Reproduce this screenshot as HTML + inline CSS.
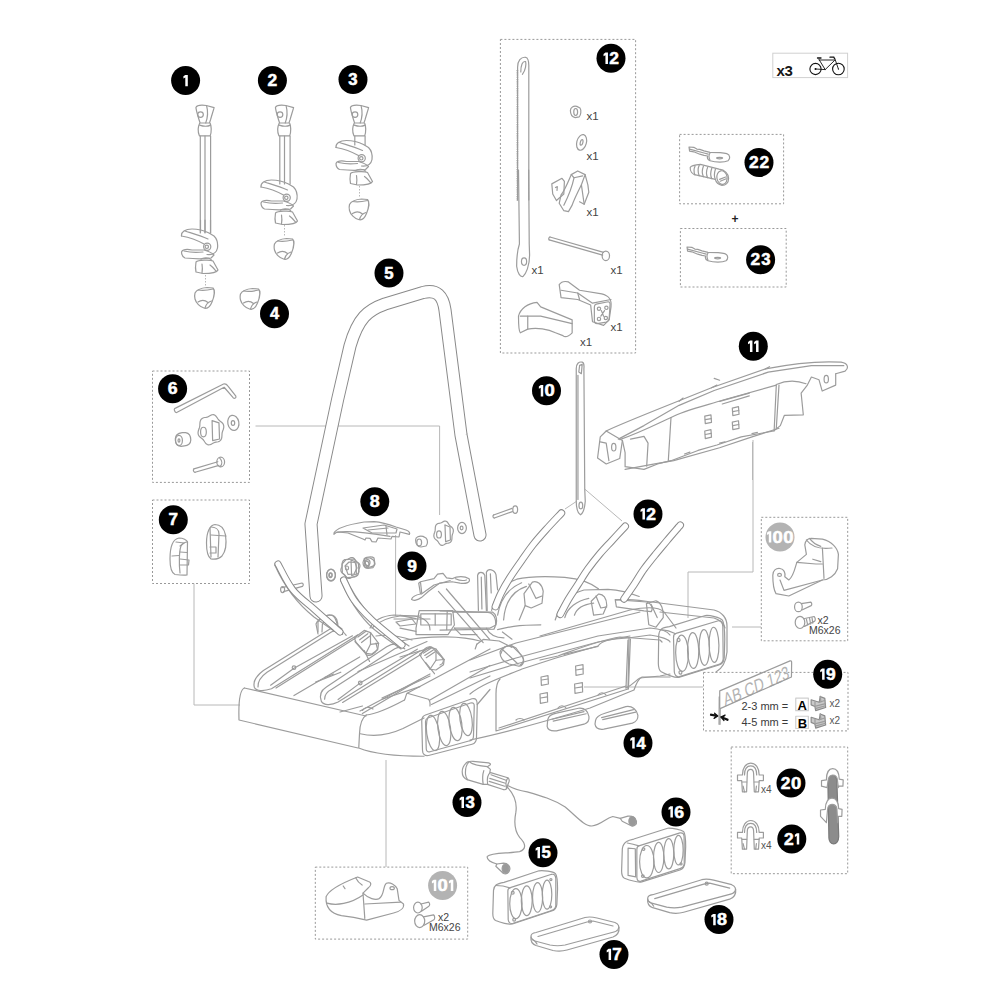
<!DOCTYPE html>
<html><head><meta charset="utf-8"><style>
html,body{margin:0;padding:0;background:#fff;width:1000px;height:1000px;overflow:hidden}
svg{display:block}
.n{font-family:"Liberation Sans",sans-serif;font-weight:bold;fill:#fff;text-anchor:middle}
.t{font-family:"Liberation Sans",sans-serif;fill:#333}
.pt path,.pt ellipse,.pt circle,.pt rect,.pt polyline,.pt line{fill:none;stroke:#9c9c9c;stroke-width:1.2;stroke-linejoin:round;stroke-linecap:round;vector-effect:non-scaling-stroke}
.pt .w{fill:#fff}
.l{fill:none;stroke:#b8b8b8;stroke-width:1}
.d{fill:none;stroke:#999;stroke-width:1;stroke-dasharray:2 2}
</style></head><body>
<svg width="1000" height="1000" viewBox="0 0 1000 1000">

<rect class="d" x="152.5" y="371" width="97.0" height="111.4"/>
<rect class="d" x="152.5" y="500" width="97.0" height="83.5"/>
<rect class="d" x="500.4" y="39.4" width="135.2" height="313.6"/>
<rect class="d" x="679.6" y="134.4" width="104.0" height="69.4"/>
<rect class="d" x="680.4" y="228.5" width="105.8" height="58.5"/>
<rect class="d" x="761.3" y="517.3" width="86.4" height="123.5"/>
<rect class="d" x="703.5" y="672.4" width="144.5" height="58.5"/>
<rect class="d" x="731.2" y="747" width="116.5" height="126.7"/>
<rect class="d" x="315.3" y="867.1" width="152.4" height="72.0"/>
<g class="l">
<path d="M 688,572 L 688,618"/><path d="M 688,572 L 753,572 L 753,440"/>
<path d="M 732,627 L 761,627"/>
<path d="M 584,687 L 703,687"/>
</g>
<g class="l">
<path d="M 752.5,442 L 752.5,480"/>
<path d="M 255.5,426 L 439.6,426 L 439.6,515"/>
<path d="M 395.6,535 L 395.6,616"/>
<path d="M 194,583.5 L 194,705 L 240,705"/>
<path d="M 386,760 L 386,867"/>
<path d="M 577,501 L 565,509 M 584.7,489 L 622,521"/>
</g>
<g font-family="Liberation Sans, sans-serif" font-size="11.5" fill="#444">
<text x="586.5" y="119.5">x1</text><text x="586.5" y="159.5">x1</text><text x="586.5" y="215.5">x1</text>
<text x="531.5" y="273.8">x1</text><text x="610.5" y="273.8">x1</text><text x="610.5" y="330.5">x1</text><text x="580" y="346">x1</text>
</g>
<rect x="772.8" y="53.2" width="74.8" height="24.4" fill="none" stroke="#d0d0d0" stroke-width="1"/>
<text x="776.5" y="75.5" font-family="Liberation Sans, sans-serif" font-size="15" font-weight="bold" fill="#151515" letter-spacing="-0.3">x3</text>
<g fill="none" stroke="#111" stroke-width="1.1" stroke-linecap="round">
<circle cx="815.5" cy="69" r="5.6"/><circle cx="838.4" cy="69" r="5.8"/>
<path d="M 819.2,60 L 834.8,60 M 834.8,58.5 L 838.4,69 M 834.5,60.5 L 825.2,69.6 L 819,59.5 M 815.5,69 L 825.2,69.6" stroke-width="0.9"/>
<path d="M 817.5,58 L 821,58 M 830,57.2 L 833.8,57.2 L 834.5,58.5" stroke-width="1.3"/>
</g>
<circle cx="815.5" cy="69" r="1" fill="#111"/><circle cx="838.4" cy="69" r="0.6" fill="#111"/>
<text x="735" y="223" font-family="Liberation Sans, sans-serif" font-size="12" font-weight="bold" fill="#222" text-anchor="middle">+</text>
<text transform="translate(725,706.5) rotate(-23.5) skewX(-12)" font-family="Liberation Sans, sans-serif" font-size="18" fill="#b3b3b3" textLength="71" lengthAdjust="spacingAndGlyphs">AB CD  123</text>
<g font-family="Liberation Sans, sans-serif" fill="#3a3a3a" font-size="11">
<text x="741.5" y="709.6">2-3 mm =</text><text x="741.5" y="726.3">4-5 mm =</text>
</g>
<g font-family="Liberation Sans, sans-serif" fill="#000" font-size="13" font-weight="bold">
<text x="797.6" y="710">A</text><text x="797.8" y="727.8">B</text>
</g>
<g font-family="Liberation Sans, sans-serif" fill="#555" font-size="10">
<text x="829.5" y="707.2">x2</text><text x="829.5" y="723.6">x2</text>
</g>
<g font-family="Liberation Sans, sans-serif" fill="#555" font-size="10">
<text x="761" y="793.2">x4</text><text x="761" y="848.5">x4</text>
</g>
<g font-family="Liberation Sans, sans-serif" fill="#444" font-size="10.5">
<text x="817.5" y="624">x2</text><text x="809" y="633.8">M6x26</text>
<text x="438" y="920.6">x2</text><text x="429" y="930.6">M6x26</text>
</g>
<path d="M 517.4,70 L 517.4,201" stroke="#888" stroke-width="1.6" stroke-dasharray="0.9 0.9" fill="none"/>
<g class="l" stroke-dasharray="1.5 1.5">
<path d="M 205.5,275 L 205.5,287"/><path d="M 284.5,225 L 284.5,237"/><path d="M 359.5,186 L 359.5,198"/>
</g>

<g class="pt">
<g transform="translate(230,600) scale(0.20000)">
<path d="M 72,440 C 52,448 42,510 45,600 L 640,740"/>
<path d="M 72,440 L 680,580"/>
<path d="M 650,555 L 1000,370"/>
<path d="M 760,490 L 1000,380"/>
<path d="M 440,170 L 430,120 C 440,95 470,80 490,75 C 520,70 530,90 540,140"/>
<path d="M 700,140 C 720,100 760,80 820,75 L 920,80 C 980,90 1000,120 1000,150"/>
<path d="M 820,95 L 1000,95"/>
</g>
<g transform="translate(340,640) scale(0.14999)">
<path d="M 175,500 C 145,520 132,560 130,625 L 125,720 C 200,750 350,775 560,775"/>
<path d="M 175,500 C 220,495 300,470 430,400"/>
<path d="M 430,400 C 440,380 440,360 448,355 L 590,395 C 600,405 602,420 600,440"/>
<path d="M 448,355 L 1000,60"/>
<path d="M 600,400 L 1000,170"/>
<path d="M 610,430 L 1000,240"/>
<path d="M 135,625 C 200,640 300,645 420,590 L 560,520"/>
<path d="M 915,430 L 1000,330"/>
<path d="M 570,500 L 880,392 C 905,385 915,400 915,430 L 910,650 C 910,675 900,690 880,695 L 590,770 C 565,775 550,760 550,735 L 545,540 C 545,515 555,505 570,500 Z"/>
<path d="M 585,520 L 870,420 C 890,415 895,425 895,440 L 890,640 C 890,660 880,670 865,672 L 600,745 C 585,750 575,740 575,725 L 570,545 C 570,530 575,525 585,520 Z"/>
<ellipse cx="620" cy="620" rx="42" ry="118" transform="rotate(-8 620 620)"/>
<ellipse cx="695" cy="590" rx="42" ry="115" transform="rotate(-8 695 590)"/>
<ellipse cx="770" cy="560" rx="42" ry="112" transform="rotate(-8 770 560)"/>
<ellipse cx="840" cy="530" rx="40" ry="108" transform="rotate(-8 840 530)"/>
<path d="M 100,10 L 180,100 C 200,110 230,95 250,60 L 240,20"/>
<path d="M 530,95 L 600,45 L 640,60 L 695,130 L 690,165 L 640,200 L 600,195 L 545,120 Z"/>
<path d="M 555,88 L 612,52"/>
<path d="M 565,103 L 622,66"/>
<path d="M 575,118 L 632,80"/>
<path d="M 600,195 L 640,135 L 695,130"/>
<path d="M 640,60 L 640,135"/>
<path d="M 570,150 L 630,225"/>
<path d="M 150,470 C 160,450 190,440 220,460"/>
<path d="M 120,210 L 580,10"/>
<path d="M 0,480 L 150,440"/>
</g>
<g transform="translate(240,620) scale(0.17999)">
<path d="M 590,85 C 560,45 520,40 500,50 L 130,280 C 90,310 70,340 80,375 C 90,395 130,397 175,382 L 655,82"/>
<path d="M 100,372 C 98,345 115,315 150,290 L 510,65 C 530,58 555,62 570,80"/>
<path d="M 170,362 L 300,268 L 625,88"/>
<path d="M 200,378 L 645,98"/>
<circle cx="300" cy="265" r="10"/>
<path d="M 300,420 L 665,205"/>
<path d="M 420,345 L 560,290"/>
<path d="M 470,320 L 520,300"/>
<path d="M 900,140 C 870,128 840,132 815,148 L 480,372 C 448,392 440,420 452,452 C 465,474 505,476 545,456 L 1000,172"/>
<path d="M 470,440 C 470,420 480,400 510,385 L 860,160 C 880,150 900,150 915,160"/>
<path d="M 545,442 L 665,352 L 985,162"/>
<path d="M 570,458 L 1000,195"/>
<circle cx="668" cy="350" r="10"/>
<path d="M 680,520 L 1000,330"/>
<path d="M 790,440 L 1000,370"/>
<path d="M 635,100 L 690,58 L 725,70 L 770,130 L 765,165 L 730,190 L 700,185 L 645,125 Z"/>
<path d="M 655,95 L 700,62"/>
<path d="M 665,110 L 710,76"/>
<path d="M 675,125 L 720,90"/>
<path d="M 700,185 L 725,135 L 770,130"/>
<path d="M 725,70 L 725,135"/>
<path d="M 690,170 L 720,230"/>
</g>
<g transform="translate(470,600) scale(0.20000)">
<path d="M 0,300 L 230,215 L 650,110 L 850,60"/>
<path d="M 0,360 L 230,290 L 640,180 L 900,140 C 960,145 990,160 1000,175"/>
<path d="M 0,390 L 230,320 L 640,210 L 800,180"/>
<path d="M 0,470 C 60,420 150,390 260,345 L 430,290 L 640,230 C 660,205 690,195 790,190 L 900,175 C 950,180 1000,200 1000,210"/>
<path d="M 150,395 C 135,410 130,440 130,470 L 130,655 L 790,445 L 795,190"/>
<path d="M 145,640 L 780,430"/>
<path d="M 0,700 C 200,660 400,600 600,540 L 820,450 C 830,420 840,395 860,385 L 1000,385"/>
<path d="M 355,385 L 390,378 L 392,420 L 357,427 Z"/>
<path d="M 358,400 L 390,395"/>
<path d="M 350,470 L 387,463 L 388,510 L 352,517 Z"/>
<path d="M 352,490 L 387,484"/>
<path d="M 528,330 L 565,323 L 566,370 L 530,377 Z"/>
<path d="M 530,350 L 565,344"/>
<path d="M 523,420 L 562,413 L 563,460 L 525,467 Z"/>
<path d="M 525,440 L 562,434"/>
<path d="M 470,272 L 640,232"/>
<path d="M 150,260 C 160,230 200,220 230,240 L 265,290 C 275,310 260,335 240,330 L 195,320 C 170,310 150,290 150,260 Z"/>
<path d="M 165,250 L 240,320"/>
<path d="M 230,600 C 240,590 260,590 270,600"/>
<path d="M 440,540 C 450,525 470,525 480,540"/>
<path d="M 640,475 C 650,460 670,460 680,475"/>
</g>
<g transform="translate(540,560) scale(0.20000)">
<path d="M 380,200 C 420,190 480,200 560,210 L 870,250 C 910,260 935,290 935,330 L 935,460 C 930,510 915,540 880,560"/>
<path d="M 0,380 L 450,250 C 550,230 600,240 620,260 L 680,340"/>
<path d="M 0,500 L 90,480 C 200,440 300,400 400,385 L 600,400 L 610,410"/>
<path d="M 440,400 L 430,640"/>
<path d="M 452,395 L 442,645"/>
<path d="M 430,640 C 470,620 480,600 500,590 L 600,580 L 650,570"/>
<path d="M 600,260 L 870,290 C 900,300 920,320 925,340"/>
</g>
<g transform="matrix(0.0722,0.00568,0.001013,0.08429,654.78,608.15)">
<path d="M 90,240 C 110,225 150,215 200,205 L 700,40 C 760,30 900,50 935,80 C 960,110 965,200 965,300 L 955,520 C 950,570 930,600 880,615 L 320,800 C 270,810 150,780 80,750 C 50,735 40,700 40,650 L 50,320 C 55,280 70,255 90,240 Z"/>
<path d="M 290,280 L 880,90 C 920,85 935,100 940,150 L 940,540 C 935,580 910,600 870,610 L 330,790 C 290,800 265,780 260,740 L 255,330 C 255,300 270,285 290,280 Z"/>
<path d="M 80,250 C 150,250 230,265 285,285"/>
<ellipse cx="370" cy="510" rx="88" ry="215"/>
<ellipse cx="525" cy="468" rx="78" ry="212"/>
<ellipse cx="680" cy="420" rx="72" ry="212"/>
<ellipse cx="815" cy="380" rx="68" ry="208"/>
<circle cx="325" cy="355" r="20"/>
<circle cx="345" cy="740" r="20"/>
</g>
<g transform="translate(540,700) scale(0.11001)">
<path d="M 70,180 C 75,150 100,130 150,120 L 350,75 C 400,70 435,100 445,150 C 450,190 430,210 400,220 L 150,280 C 100,285 70,270 65,240 Z"/>
<path d="M 110,175 L 400,105"/>
<path d="M 120,192 L 420,125"/>
<path d="M 505,185 C 510,150 540,135 590,120 L 780,60 C 840,50 880,90 890,140 C 892,180 870,200 840,210 L 580,265 C 530,272 505,250 500,220 Z"/>
<path d="M 560,160 L 850,88"/>
<path d="M 570,178 L 870,110"/>
</g>
<g transform="translate(260,540) scale(0.20000)">
<path d="M 75,128 C 70,115 85,108 100,112 C 140,200 200,300 300,360 L 410,445"/>
<path d="M 75,128 C 130,250 200,330 270,385 L 370,455"/>
<path d="M 110,238 L 210,215 C 218,218 218,228 212,232 L 118,258"/>
<ellipse cx="113" cy="248" rx="10" ry="15"/>
<ellipse cx="355" cy="176" rx="22" ry="30"/>
<ellipse cx="352" cy="176" rx="8" ry="12"/>
<path d="M 410,120 L 430,98 L 470,95 L 492,118 L 495,160 L 475,185 L 435,188 L 412,165 Z"/>
<path d="M 425,130 L 445,110 L 475,112 L 485,140 L 470,170 L 440,172 Z"/>
<path d="M 520,95 C 525,85 560,80 570,90 L 575,120 C 570,135 540,140 530,130 Z"/>
<ellipse cx="538" cy="113" rx="12" ry="15"/>
<path d="M 405,205 C 400,190 415,185 430,192 C 480,300 560,400 640,460 L 745,530"/>
<path d="M 405,205 C 460,330 530,420 600,470 L 705,545"/>
<path d="M 290,460 L 290,410 C 300,390 330,375 360,375 C 380,380 390,400 390,440"/>
<path d="M 310,460 L 312,420 C 320,405 335,400 350,400"/>
<path d="M 560,440 C 600,400 650,385 700,380 L 800,380"/>
<path d="M 680,410 L 760,395 L 780,420 L 700,430 Z"/>
<path d="M 580,480 C 640,470 700,480 760,500"/>
</g>
<g transform="translate(400,545) scale(0.16000)">
<path d="M 240,290 L 520,610"/>
<path d="M 290,275 L 560,590"/>
<path d="M 490,410 L 485,190 C 490,165 520,165 530,190 L 540,410"/>
<path d="M 508,200 L 512,400"/>
<path d="M 545,410 L 540,170 C 550,145 590,150 600,185 L 610,280"/>
<path d="M 565,180 L 570,300"/>
<path d="M 100,520 L 120,410 L 330,410 L 340,500 L 300,560 L 100,560 Z"/>
<path d="M 130,430 L 320,430 L 320,500 L 130,500 Z"/>
<path d="M 220,430 L 220,500"/>
<path d="M 330,420 L 580,420 C 600,430 610,470 600,500 L 560,520 L 340,520"/>
<path d="M 0,440 L 100,460"/>
<path d="M 0,600 C 200,560 400,570 500,600"/>
<path d="M 0,700 L 200,640"/>
<path d="M 540,520 C 560,560 600,580 650,580"/>
<path d="M 0,520 L 100,540"/>
<path d="M 340,520 L 380,560 L 480,560"/>
<path d="M 130,690 C 140,650 170,630 200,640 L 260,700 C 280,720 270,745 250,750"/>
<path d="M 630,680 C 640,640 670,620 700,630 L 760,690 C 780,710 770,745 750,750"/>
<path d="M 480,620 L 520,590 L 620,600 L 700,640"/>
<path d="M 470,650 L 480,620"/>
</g>
<g transform="translate(440,560) scale(0.24000)">
<path d="M 215,210 C 230,150 260,100 320,80 C 380,65 450,68 520,72 C 580,78 630,95 660,120"/>
<path d="M 265,250 C 270,180 300,130 360,110"/>
<path d="M 240,230 C 250,170 280,120 340,95"/>
<path d="M 350,140 L 385,92 C 405,85 425,100 430,130 L 425,180 L 380,200 L 355,190 Z"/>
<path d="M 370,100 L 400,160 L 425,150"/>
<path d="M 330,250 L 355,190"/>
<path d="M 480,250 C 500,180 540,140 600,125 L 700,122 C 760,126 800,140 830,152"/>
<path d="M 520,240 C 530,200 570,170 620,160"/>
<path d="M 560,230 C 570,200 600,185 640,180"/>
<path d="M 630,172 L 660,142 C 680,140 695,160 695,190 L 680,225 L 640,230 Z"/>
<path d="M 650,150 L 670,200 L 695,195"/>
<path d="M 730,165 L 860,175 C 880,180 890,200 880,215 L 850,212 L 735,195 Z"/>
<path d="M 860,182 L 900,170 C 920,175 935,210 930,240 L 900,280 L 870,270 Z"/>
<path d="M 880,185 L 905,240"/>
<path d="M 0,212 L 200,218 C 230,222 240,260 225,288 L 0,292"/>
<path d="M 30,215 L 28,290"/>
<path d="M 240,290 C 280,280 320,270 420,270"/>
<path d="M 260,300 L 300,330"/>
</g>
<g transform="translate(380,540) scale(0.17999)">
<path d="M 175,330 C 180,315 200,305 225,300 L 215,240 L 225,232 L 300,215 L 320,190 L 350,185 L 370,210 L 400,215 C 430,200 470,200 495,215 C 505,235 480,245 445,240 L 400,232 L 330,240 L 270,285 L 230,320 C 210,335 185,340 175,330 Z"/>
<path d="M 230,300 L 300,250 L 390,225"/>
<path d="M 225,235 L 232,295"/>
<path d="M 420,215 C 440,225 460,228 480,222"/>
</g>
<g transform="translate(170,95) scale(0.14000)">
<path d="M 185,90 C 190,75 220,70 260,75 L 315,90 C 310,110 300,140 290,175 L 282,200 L 215,200 C 205,170 190,120 185,90 Z"/>
<circle cx="218" cy="140" r="20"/>
<path d="M 262,80 C 270,110 270,160 255,200"/>
<path d="M 212,202 C 198,230 198,262 210,292 L 287,292 C 297,262 297,230 287,202"/>
<path d="M 212,215 C 240,225 270,225 290,215"/>
</g>
<g transform="translate(249.5,95) scale(0.14000)">
<path d="M 185,90 C 190,75 220,70 260,75 L 315,90 C 310,110 300,140 290,175 L 282,200 L 215,200 C 205,170 190,120 185,90 Z"/>
<circle cx="218" cy="140" r="20"/>
<path d="M 262,80 C 270,110 270,160 255,200"/>
<path d="M 212,202 C 198,230 198,262 210,292 L 287,292 C 297,262 297,230 287,202"/>
<path d="M 212,215 C 240,225 270,225 290,215"/>
</g>
<g transform="translate(324.5,95) scale(0.14000)">
<path d="M 185,90 C 190,75 220,70 260,75 L 315,90 C 310,110 300,140 290,175 L 282,200 L 215,200 C 205,170 190,120 185,90 Z"/>
<circle cx="218" cy="140" r="20"/>
<path d="M 262,80 C 270,110 270,160 255,200"/>
<path d="M 212,202 C 198,230 198,262 210,292 L 287,292 C 297,262 297,230 287,202"/>
<path d="M 212,215 C 240,225 270,225 290,215"/>
</g>
<g transform="translate(175,220) scale(0.10000)">
<path d="M 65,160 C 60,120 100,90 170,90 C 230,90 300,110 340,130 L 390,160 C 420,190 430,240 425,280 C 415,330 370,350 320,345"/>
<path d="M 65,160 C 120,170 200,190 290,240"/>
<path d="M 100,110 C 160,130 240,150 330,190"/>
<path d="M 65,320 C 80,290 120,290 170,300 L 290,300 C 330,310 370,330 390,350 L 360,380 C 300,390 200,390 100,380 C 80,370 65,350 65,320 Z"/>
<path d="M 90,310 C 130,320 200,330 280,320"/>
<circle cx="322" cy="268" r="36"/>
<circle cx="318" cy="268" r="17"/>
<path d="M 210,420 C 230,400 350,395 380,410 L 430,500 C 420,525 350,535 280,535 L 210,520 C 200,480 205,450 210,420 Z"/>
<path d="M 260,392 C 280,372 340,372 362,396"/>
<path d="M 270,440 C 275,470 275,500 270,530"/>
<path d="M 350,450 C 380,470 400,500 410,510"/>
<path d="M 200,730 C 220,690 260,680 320,675 L 380,680 C 400,700 395,760 370,820 C 350,870 320,890 290,880 C 250,870 210,830 200,790 C 195,770 195,750 200,730 Z"/>
<path d="M 230,820 C 260,800 300,800 330,825"/>
<path d="M 300,880 C 310,840 330,820 365,810"/>
<path d="M 230,700 C 280,710 340,700 380,690"/>
<path d="M 255,0 L 255,120"/>
<path d="M 300,0 L 300,125"/>
<path d="M 355,0 L 355,130"/>
</g>
<g transform="translate(254.5,171) scale(0.10000)">
<path d="M 65,160 C 60,120 100,90 170,90 C 230,90 300,110 340,130 L 390,160 C 420,190 430,240 425,280 C 415,330 370,350 320,345"/>
<path d="M 65,160 C 120,170 200,190 290,240"/>
<path d="M 100,110 C 160,130 240,150 330,190"/>
<path d="M 65,320 C 80,290 120,290 170,300 L 290,300 C 330,310 370,330 390,350 L 360,380 C 300,390 200,390 100,380 C 80,370 65,350 65,320 Z"/>
<path d="M 90,310 C 130,320 200,330 280,320"/>
<circle cx="322" cy="268" r="36"/>
<circle cx="318" cy="268" r="17"/>
<path d="M 210,420 C 230,400 350,395 380,410 L 430,500 C 420,525 350,535 280,535 L 210,520 C 200,480 205,450 210,420 Z"/>
<path d="M 260,392 C 280,372 340,372 362,396"/>
<path d="M 270,440 C 275,470 275,500 270,530"/>
<path d="M 350,450 C 380,470 400,500 410,510"/>
<path d="M 200,730 C 220,690 260,680 320,675 L 380,680 C 400,700 395,760 370,820 C 350,870 320,890 290,880 C 250,870 210,830 200,790 C 195,770 195,750 200,730 Z"/>
<path d="M 230,820 C 260,800 300,800 330,825"/>
<path d="M 300,880 C 310,840 330,820 365,810"/>
<path d="M 230,700 C 280,710 340,700 380,690"/>
</g>
<g transform="translate(329.5,131.5) scale(0.10000)">
<path d="M 65,160 C 60,120 100,90 170,90 C 230,90 300,110 340,130 L 390,160 C 420,190 430,240 425,280 C 415,330 370,350 320,345"/>
<path d="M 65,160 C 120,170 200,190 290,240"/>
<path d="M 100,110 C 160,130 240,150 330,190"/>
<path d="M 65,320 C 80,290 120,290 170,300 L 290,300 C 330,310 370,330 390,350 L 360,380 C 300,390 200,390 100,380 C 80,370 65,350 65,320 Z"/>
<path d="M 90,310 C 130,320 200,330 280,320"/>
<circle cx="322" cy="268" r="36"/>
<circle cx="318" cy="268" r="17"/>
<path d="M 210,420 C 230,400 350,395 380,410 L 430,500 C 420,525 350,535 280,535 L 210,520 C 200,480 205,450 210,420 Z"/>
<path d="M 260,392 C 280,372 340,372 362,396"/>
<path d="M 270,440 C 275,470 275,500 270,530"/>
<path d="M 350,450 C 380,470 400,500 410,510"/>
<path d="M 200,730 C 220,690 260,680 320,675 L 380,680 C 400,700 395,760 370,820 C 350,870 320,890 290,880 C 250,870 210,830 200,790 C 195,770 195,750 200,730 Z"/>
<path d="M 230,820 C 260,800 300,800 330,825"/>
<path d="M 300,880 C 310,840 330,820 365,810"/>
<path d="M 230,700 C 280,710 340,700 380,690"/>
</g>
<g transform="translate(220.5,221) scale(0.10000)">
<path d="M 200,730 C 220,690 260,680 320,675 L 380,680 C 400,700 395,760 370,820 C 350,870 320,890 290,880 C 250,870 210,830 200,790 C 195,770 195,750 200,730 Z"/>
<path d="M 230,820 C 260,800 300,800 330,825"/>
<path d="M 300,880 C 310,840 330,820 365,810"/>
<path d="M 230,700 C 280,710 340,700 380,690"/>
</g>
<g transform="translate(0,0) scale(1.00000)">
<path d="M 200.3,136 L 200.3,233"/>
<path d="M 210.6,136 L 210.6,233"/>
<path d="M 205,136 L 205,233"/>
<path d="M 279.8,136 L 279.8,184"/>
<path d="M 290.1,136 L 290.1,184"/>
<path d="M 284.5,136 L 284.5,184"/>
<path d="M 354.8,136 L 354.8,145"/>
<path d="M 365.1,136 L 365.1,145"/>
</g>
<g transform="translate(320,490) scale(0.20000)">
<path d="M 70,215 C 80,190 130,175 220,160 L 270,158 C 300,160 340,170 380,185 L 430,200 C 445,205 452,215 447,222 L 400,210 L 395,235 L 360,232 L 355,245 L 290,240 L 280,260 L 260,258 L 250,242 L 230,240 L 225,250 L 215,245 L 140,215 L 90,210 C 80,212 75,218 70,222 Z"/>
<path d="M 215,190 L 320,175 L 385,195 L 380,215 L 260,215 Z"/>
<path d="M 240,200 L 340,190"/>
<path d="M 330,180 L 335,225"/>
<path d="M 80,212 C 150,200 250,215 350,232"/>
<path d="M 664.3,216.0 L 662.6,220.8 L 661.2,225.4 L 660.3,230.0 L 659.9,234.8 L 659.7,240.0 L 659.4,245.5 L 658.3,250.9 L 656.4,255.8 L 653.5,259.8 L 649.8,262.7 L 645.5,264.5 L 641.1,265.4 L 636.9,266.1 L 633.0,266.9 L 629.3,268.2 L 625.7,270.2 L 622.0,272.6 L 618.0,274.9 L 613.7,276.5 L 609.3,276.9 L 605.0,275.8 L 601.1,273.3 L 597.7,269.6 L 594.9,265.4 L 592.3,261.2 L 589.8,257.5 L 587.0,254.2 L 583.8,251.4 L 580.3,248.6 L 576.6,245.5 L 573.4,241.7 L 570.9,237.2 L 569.5,232.0 L 569.3,226.6 L 570.2,221.2 L 571.7,216.0 L 573.4,211.2 L 574.8,206.6 L 575.7,202.0 L 576.1,197.2 L 576.3,192.0 L 576.6,186.5 L 577.7,181.1 L 579.6,176.2 L 582.5,172.2 L 586.2,169.3 L 590.5,167.5 L 594.9,166.6 L 599.1,165.9 L 603.0,165.1 L 606.7,163.8 L 610.3,161.8 L 614.0,159.4 L 618.0,157.1 L 622.3,155.5 L 626.7,155.1 L 631.0,156.2 L 634.9,158.7 L 638.3,162.4 L 641.1,166.6 L 643.7,170.8 L 646.2,174.5 L 649.0,177.8 L 652.2,180.6 L 655.7,183.4 L 659.4,186.5 L 662.6,190.3 L 665.1,194.8 L 666.5,200.0 L 666.7,205.4 L 665.8,210.8 L 664.3,216.0 Z"/>
<path d="M 625,175 L 650,185 L 652,250 L 628,258"/>
<path d="M 628,258 L 625,175"/>
<ellipse cx="595" cy="222" rx="12" ry="18"/>
<ellipse cx="710" cy="190" rx="22" ry="28"/>
<ellipse cx="708" cy="190" rx="7" ry="9"/>
<path d="M 478,250 C 478,235 495,228 515,232 L 530,240 C 540,250 540,270 530,280 L 505,285 C 488,285 478,270 478,250 Z"/>
<ellipse cx="496" cy="262" rx="12" ry="17"/>
<ellipse cx="785" cy="172" rx="7" ry="10"/>
<path d="M 868,125 L 960,92"/>
<path d="M 872,140 L 962,108"/>
<path d="M 868,125 C 862,130 865,140 872,140"/>
<ellipse cx="976" cy="98" rx="12" ry="19"/>
<path d="M 197.3,390.0 L 195.6,394.1 L 194.3,398.1 L 193.4,402.1 L 193.0,406.2 L 192.8,410.7 L 192.5,415.4 L 191.5,420.1 L 189.6,424.3 L 186.7,427.8 L 183.1,430.3 L 178.9,431.8 L 174.6,432.6 L 170.5,433.1 L 166.7,433.8 L 163.1,435.0 L 159.6,436.7 L 155.9,438.8 L 152.0,440.8 L 147.8,442.2 L 143.5,442.5 L 139.3,441.6 L 135.5,439.4 L 132.2,436.2 L 129.4,432.6 L 126.9,429.0 L 124.4,425.7 L 121.7,422.9 L 118.6,420.5 L 115.1,418.1 L 111.5,415.4 L 108.3,412.1 L 105.9,408.2 L 104.5,403.8 L 104.4,399.1 L 105.2,394.4 L 106.7,390.0 L 108.4,385.9 L 109.7,381.9 L 110.6,377.9 L 111.0,373.8 L 111.2,369.3 L 111.5,364.6 L 112.5,359.9 L 114.4,355.7 L 117.3,352.2 L 120.9,349.7 L 125.1,348.2 L 129.4,347.4 L 133.5,346.9 L 137.3,346.2 L 140.9,345.0 L 144.4,343.3 L 148.1,341.2 L 152.0,339.2 L 156.2,337.8 L 160.5,337.5 L 164.7,338.4 L 168.5,340.6 L 171.8,343.8 L 174.6,347.4 L 177.1,351.0 L 179.6,354.3 L 182.3,357.1 L 185.4,359.5 L 188.9,361.9 L 192.5,364.6 L 195.7,367.9 L 198.1,371.8 L 199.5,376.2 L 199.6,380.9 L 198.8,385.6 L 197.3,390.0 Z"/>
<path d="M 155,350 L 180,360 L 182,420 L 158,428 Z"/>
<ellipse cx="135" cy="390" rx="8" ry="10"/>
<path d="M 215,362 C 215,348 232,338 250,340 L 265,348 C 275,358 275,378 265,388 L 240,392 C 225,390 215,378 215,362 Z"/>
<ellipse cx="233" cy="372" rx="12" ry="16"/>
<ellipse cx="55" cy="425" rx="22" ry="28"/>
<ellipse cx="54" cy="425" rx="7" ry="9"/>
</g>
<g transform="translate(150,370) scale(0.11494)">
<path d="M 215,355 C 207,345 212,336 222,332 L 640,122 C 655,117 667,124 677,138 L 747,228 C 752,243 737,250 725,243 L 645,150 L 232,370 C 224,372 217,364 215,355 Z"/>
<path d="M 636.3,520.0 L 632.4,530.4 L 629.2,540.3 L 627.2,550.1 L 626.3,560.6 L 625.9,571.8 L 625.0,583.5 L 622.7,595.1 L 618.3,605.7 L 611.6,614.4 L 603.0,620.6 L 593.2,624.5 L 583.1,626.5 L 573.5,627.9 L 564.5,629.6 L 556.0,632.5 L 547.8,636.8 L 539.2,642.0 L 530.0,647.0 L 520.1,650.5 L 510.0,651.3 L 500.1,649.0 L 491.2,643.5 L 483.4,635.6 L 476.9,626.5 L 471.0,617.5 L 465.2,609.3 L 458.8,602.4 L 451.5,596.2 L 443.3,590.2 L 435.0,583.5 L 427.4,575.4 L 421.7,565.6 L 418.6,554.6 L 418.2,542.8 L 420.2,531.1 L 423.7,520.0 L 427.6,509.6 L 430.8,499.7 L 432.8,489.9 L 433.7,479.4 L 434.1,468.2 L 435.0,456.5 L 437.3,444.9 L 441.7,434.3 L 448.4,425.6 L 457.0,419.4 L 466.8,415.5 L 476.9,413.5 L 486.5,412.1 L 495.5,410.4 L 504.0,407.5 L 512.2,403.2 L 520.8,398.0 L 530.0,393.0 L 539.9,389.5 L 550.0,388.7 L 559.9,391.0 L 568.8,396.5 L 576.6,404.4 L 583.1,413.5 L 589.0,422.5 L 594.8,430.7 L 601.2,437.6 L 608.5,443.8 L 616.7,449.8 L 625.0,456.5 L 632.6,464.6 L 638.3,474.4 L 641.4,485.4 L 641.8,497.2 L 639.8,508.9 L 636.3,520.0 Z"/>
<ellipse cx="465" cy="540" rx="25" ry="42"/>
<path d="M 540,440 L 600,460 L 605,600 L 545,615 Z"/>
<ellipse cx="725" cy="460" rx="48" ry="66" transform="rotate(-12 725 460)"/>
<ellipse cx="722" cy="462" rx="15" ry="21"/>
<path d="M 220,600 C 220,570 245,550 280,545 L 310,545 C 340,550 355,580 355,610 C 355,640 330,660 300,660 L 270,665 C 240,660 220,635 220,600 Z"/>
<ellipse cx="252" cy="613" rx="30" ry="45"/>
<ellipse cx="252" cy="613" rx="8" ry="14"/>
<path d="M 382,860 L 590,798"/>
<path d="M 392,890 L 600,830"/>
<path d="M 382,860 C 372,868 378,888 392,890"/>
<ellipse cx="615" cy="800" rx="34" ry="42"/>
<path d="M 605,765 C 630,790 630,820 610,840"/>
</g>
<g transform="translate(150,495) scale(0.10000)">
<path d="M 200,640 C 200,520 230,440 290,430 C 330,430 370,450 375,470 L 370,800 C 340,805 290,800 250,795 C 215,780 200,720 200,640 Z"/>
<path d="M 300,780 C 290,700 290,560 310,510 C 330,480 360,470 375,470"/>
<path d="M 220,610 L 290,605"/>
<path d="M 300,570 L 370,575"/>
<path d="M 300,640 L 390,650 L 385,700 L 300,700"/>
<path d="M 260,470 L 340,480 L 300,510"/>
<path d="M 565,480 C 565,370 600,300 650,295 C 700,295 740,330 755,400 C 765,470 760,560 720,610 C 690,640 650,645 610,640 C 580,620 565,560 565,480 Z"/>
<path d="M 600,330 L 610,620"/>
<path d="M 610,320 C 650,320 690,340 690,390 L 680,620"/>
<path d="M 610,400 L 760,410"/>
<path d="M 600,520 L 660,520 L 660,580 L 600,580"/>
</g>
<g transform="translate(555,355) scale(0.17001)">
<path d="M 125,80 C 125,50 140,38 160,42 C 170,45 172,60 170,80 L 175,790 L 178,860 C 175,900 165,930 150,940 C 135,930 125,900 125,860 L 125,80 Z"/>
<path d="M 140,100 L 145,60 L 160,55 L 155,110 Z"/>
<ellipse cx="152" cy="885" rx="11" ry="20"/>
<path d="M 135,120 L 135,850"/>
</g>
<g transform="translate(590,350) scale(0.27000)">
<path d="M 60,300 C 100,280 200,240 300,200 L 450,140 L 650,70 C 750,50 850,40 930,45 C 958,50 958,68 945,78 L 910,88"/>
<path d="M 105,330 L 200,280 L 330,205 L 460,150 L 660,82 L 820,58 L 940,58"/>
<path d="M 330,190 L 345,178 M 450,140 L 470,130 M 650,70 L 665,62"/>
<path d="M 910,88 L 910,130 L 860,152 L 848,110 L 820,100 L 805,130 L 782,160 L 790,240 L 720,242 L 705,280 L 680,300 L 560,322 L 470,352 L 400,372 L 300,410 L 250,422 L 200,442 L 130,432 L 130,380 L 120,335"/>
<ellipse cx="875" cy="108" rx="8" ry="14"/>
<ellipse cx="88" cy="360" rx="8" ry="14"/>
<path d="M 60,300 L 38,322 L 28,400 L 60,422 L 110,402 L 120,335 L 60,300"/>
<path d="M 38,340 L 60,345 L 70,410"/>
<path d="M 150,330 L 200,320 L 215,345 L 210,430"/>
<path d="M 300,250 L 290,410"/>
<path d="M 300,250 C 350,222 450,200 490,186 L 690,130 L 682,300"/>
<path d="M 110,332 C 200,300 250,272 300,250"/>
<path d="M 130,442 L 240,422 L 310,410 L 480,362 L 600,322 L 700,290"/>
<path d="M 700,130 L 690,290"/>
<path d="M 690,128 C 720,115 760,110 800,125"/>
<path d="M 480,190 L 590,160"/>
<path d="M 490,200 L 590,170"/>
<path d="M 425,245 L 448,240 L 450,268 L 427,273 Z"/>
<path d="M 427,258 L 449,254"/>
<path d="M 425,300 L 448,295 L 450,323 L 427,328 Z"/>
<path d="M 427,313 L 449,309"/>
<path d="M 527,215 L 550,210 L 552,238 L 529,243 Z"/>
<path d="M 529,228 L 551,224"/>
<path d="M 527,267 L 550,262 L 552,290 L 529,295 Z"/>
<path d="M 529,280 L 551,276"/>
<path d="M 350,385 L 370,378 M 480,345 L 500,340 M 600,310 L 620,305"/>
<path d="M 460,105 L 480,112"/>
</g>
<g transform="translate(500,40) scale(0.16000)">
<path d="M 110,1000 L 110,170 C 110,130 130,105 160,108 C 178,112 180,130 180,160 L 180,1000"/>
<path d="M 130,200 C 130,160 140,130 160,135 C 165,150 160,190 140,215"/>
<path d="M 440,440 C 440,420 460,410 480,415 L 500,425 C 510,440 505,470 495,480 L 470,485 C 450,480 440,465 440,440 Z"/>
<ellipse cx="473" cy="450" rx="12" ry="22"/>
<ellipse cx="510" cy="640" rx="30" ry="50" transform="rotate(15 510 640)"/>
<ellipse cx="510" cy="640" rx="8" ry="18" transform="rotate(15 510 640)"/>
</g>
<g transform="translate(500,170) scale(0.18501)">
<path d="M 155,0 L 158,400 L 160,460 C 160,520 140,560 125,575 C 110,580 95,560 90,520 C 90,470 95,430 105,400 L 100,0"/>
<ellipse cx="130" cy="495" rx="14" ry="20"/>
<path d="M 280,75 L 335,45 L 348,62 L 345,130 L 305,165 L 285,130 Z"/>
<path d="M 300,95 L 310,90 L 308,110"/>
<path d="M 330,135 C 350,110 370,60 385,25 L 420,5 L 460,25 L 440,80 C 420,120 400,160 390,190 L 370,225 L 345,220 L 320,180 Z"/>
<path d="M 385,25 L 400,42 L 447,32"/>
<path d="M 400,42 C 390,90 370,140 345,190"/>
<path d="M 460,25 L 475,80 L 480,120 L 455,185 L 430,172"/>
<path d="M 440,80 L 455,185"/>
<path d="M 270,362 L 560,445"/>
<path d="M 266,378 L 555,460"/>
<path d="M 270,362 C 262,365 262,375 266,378"/>
<ellipse cx="572" cy="464" rx="20" ry="26"/>
<path d="M 100,790 C 110,750 150,720 200,715 L 220,740 L 390,810 L 390,880 C 370,900 350,905 340,895 L 300,880 C 260,860 200,850 150,860 L 110,880 C 100,870 100,830 100,790 Z"/>
<path d="M 110,790 L 220,790 L 390,830"/>
<path d="M 150,790 L 150,860"/>
<path d="M 320,620 C 330,605 350,600 370,605 L 430,650 L 550,670 C 590,680 605,700 600,740 L 590,810 L 560,840 L 500,820 L 490,730 L 420,700 L 330,690 Z"/>
<path d="M 330,650 L 420,665 L 500,720 L 600,700"/>
<path d="M 420,665 L 430,700"/>
<path d="M 520,725 L 585,712 C 592,712 595,718 595,725 L 590,805 C 588,815 582,820 575,822 L 525,830 C 515,830 510,825 510,815 L 510,740 C 510,732 514,727 520,725 Z"/>
<circle cx="535" cy="750" r="9"/>
<circle cx="575" cy="745" r="9"/>
<circle cx="535" cy="805" r="9"/>
<circle cx="572" cy="800" r="9"/>
<path d="M 548,760 L 560,790 M 545,790 L 565,760"/>
</g>
<g transform="translate(680,135) scale(0.06000)">
<path d="M 150,200 L 230,205 L 280,235 L 330,240 L 400,265 L 500,290 C 600,290 700,290 780,310 C 840,330 840,400 800,430 C 740,460 600,460 500,430 C 460,410 450,380 460,350 L 400,340 L 330,320 L 280,300 L 230,280 L 160,270 Z"/>
<ellipse cx="660" cy="385" rx="50" ry="12"/>
<path d="M 160,235 L 400,300 L 470,320"/>
<path d="M 500,300 C 480,330 480,380 500,420"/>
<path d="M 170,540 C 180,520 250,500 340,490 L 650,570 C 750,580 810,650 810,720 C 810,800 760,840 700,840 C 650,830 600,790 590,740 L 280,670 C 200,660 165,600 170,540 Z"/>
<ellipse cx="700" cy="710" rx="85" ry="115" transform="rotate(-10 700 710)"/>
<path d="M 660,740 L 760,700"/>
<path d="M 670,770 L 770,730"/>
<path d="M 250,520 C 230,560 230,620 250,665"/>
<path d="M 320,505 C 300,550 300,630 320,680"/>
<path d="M 390,520 C 370,570 370,650 390,695"/>
<path d="M 460,540 C 440,590 440,670 460,712"/>
<path d="M 530,555 C 510,610 510,690 530,728"/>
<path d="M 590,570 C 570,630 570,700 590,740"/>
</g>
<g transform="translate(678,235) scale(0.06000)">
<path d="M 150,200 L 230,205 L 280,235 L 330,240 L 400,265 L 500,290 C 600,290 700,290 780,310 C 840,330 840,400 800,430 C 740,460 600,460 500,430 C 460,410 450,380 460,350 L 400,340 L 330,320 L 280,300 L 230,280 L 160,270 Z"/>
<ellipse cx="660" cy="385" rx="50" ry="12"/>
<path d="M 160,235 L 400,300 L 470,320"/>
<path d="M 500,300 C 480,330 480,380 500,420"/>
</g>
<g transform="translate(705,655) scale(0.09500)">
<path d="M 155,378 L 895,62 C 905,58 912,65 912,75 L 910,232 L 165,562 C 158,565 155,560 155,550 Z"/>
<path d="M 150,440 L 148,730"/>
<path d="M 160,570 L 158,730"/>
<path style="fill:#111;stroke:#111" d="M 60,622 L 118,636 L 100,612 L 135,642 L 95,668 L 116,645 L 58,632 Z"/>
<path style="fill:#111;stroke:#111" d="M 240,688 L 182,662 L 200,690 L 165,652 L 212,632 L 188,656 L 242,678 Z"/>
</g>
<g transform="translate(780,690) scale(0.07000)">
<rect x="225" y="115" width="180" height="180" style="stroke:#cfcfcf"/>
<rect x="225" y="375" width="180" height="175" style="stroke:#cfcfcf"/>
<path class="w" style="fill:#c9c9c9;stroke:#8a8a8a" d="M 445,140 L 560,175 L 575,92 L 640,120 L 652,250 L 510,295 L 498,235 L 445,212 Z"/>
<path d="M 500,170 L 500,235"/>
<path d="M 560,175 L 640,150"/>
<path d="M 510,230 L 650,195"/>
<path d="M 515,262 L 650,225"/>
<path d="M 575,92 L 585,170"/>
</g>
<g transform="translate(780,690) scale(0.07000)">
</g>
<g transform="translate(780,707.4996500069999) scale(0.07000)">
<path class="w" style="fill:#c9c9c9;stroke:#8a8a8a" d="M 445,140 L 560,175 L 575,92 L 640,120 L 652,250 L 510,295 L 498,235 L 445,212 Z"/>
<path d="M 500,170 L 500,235"/>
<path d="M 560,175 L 640,150"/>
<path d="M 510,230 L 650,195"/>
<path d="M 515,262 L 650,225"/>
<path d="M 575,92 L 585,170"/>
</g>
<g transform="translate(720,740) scale(0.14000)">
<path style="fill:#8c8c8c;stroke:#7a7a7a" d="M 770,270 C 770,250 790,240 805,245 C 825,250 835,270 835,300 L 848,690 C 848,720 832,742 812,742 C 792,742 778,722 778,700 Z"/>
<path class="w" d="M 725,290 L 760,285 C 760,230 780,205 805,205 C 830,205 850,230 852,280 L 880,285 L 878,330 L 850,330 L 845,340 L 838,280 C 835,260 820,250 805,250 C 790,250 775,260 772,290 L 765,340 L 725,330 Z"/>
<path class="w" d="M 718,500 L 752,495 C 752,440 775,415 800,415 C 825,415 845,440 848,490 L 872,495 L 870,545 L 845,545 L 840,590 L 835,490 C 832,470 815,460 800,460 C 785,460 770,470 768,500 L 760,590 L 718,545 Z"/>
<path d="M 160,370 L 155,290 L 125,290 L 125,250 L 160,250 C 160,200 185,165 220,165 C 255,165 280,200 280,250 L 310,250 L 310,290 L 280,290 L 275,370 L 245,370 L 240,240 C 240,220 230,210 220,210 C 205,210 195,220 195,240 L 190,370 Z"/>
<path d="M 175,250 C 175,200 195,185 220,185 C 245,185 262,200 262,250"/>
<path d="M 160,300 L 190,300 M 245,300 L 278,300"/>
<path d="M 165,330 L 175,370 M 260,330 L 255,370"/>
</g>
<g transform="translate(720,797.3988520229595) scale(0.14000)">
<path d="M 160,370 L 155,290 L 125,290 L 125,250 L 160,250 C 160,200 185,165 220,165 C 255,165 280,200 280,250 L 310,250 L 310,290 L 280,290 L 275,370 L 245,370 L 240,240 C 240,220 230,210 220,210 C 205,210 195,220 195,240 L 190,370 Z"/>
<path d="M 175,250 C 175,200 195,185 220,185 C 245,185 262,200 262,250"/>
<path d="M 160,300 L 190,300 M 245,300 L 278,300"/>
<path d="M 165,330 L 175,370 M 260,330 L 255,370"/>
</g>
<g transform="translate(455,755) scale(0.06000)">
<path d="M 180,140 C 200,110 240,100 300,105 L 560,130 C 600,140 600,165 570,175 L 540,195 L 590,240 L 580,290 L 880,380 C 910,400 910,440 890,470 L 860,560 C 850,580 820,585 790,570 L 540,490 L 470,490 L 200,410 C 150,390 120,340 120,280 C 120,220 150,170 180,140 Z"/>
<path d="M 230,120 C 190,160 170,240 175,320 C 180,360 190,390 210,410"/>
<path d="M 250,120 C 300,160 400,180 540,195"/>
<path d="M 480,260 C 460,320 455,400 470,490"/>
<path d="M 590,290 C 550,320 530,400 545,490"/>
<path d="M 600,330 L 850,420"/>
<path d="M 580,390 L 840,470"/>
<path d="M 570,440 L 830,520"/>
<path d="M 880,380 C 850,420 840,480 860,560"/>
</g>
<g transform="translate(455,750) scale(0.19001)">
<path d="M 275,185 C 300,200 320,210 380,220 C 450,240 520,260 580,300 C 640,350 680,400 720,400 C 770,395 790,360 830,350 L 870,360"/>
<path d="M 870,360 L 910,348 C 935,345 950,360 955,375 C 958,390 945,402 930,400 L 880,375 Z"/>
<ellipse cx="933" cy="374" rx="18" ry="24" style="fill:#999"/>
<path d="M 270,190 C 300,220 330,270 320,330 C 310,380 310,420 340,460 C 370,490 380,520 340,535 C 280,545 190,540 170,560 C 165,580 190,590 220,600"/>
<path d="M 220,600 L 255,595 C 280,595 292,615 288,630 C 285,648 270,655 255,650 L 215,612 Z"/>
<ellipse cx="266" cy="624" rx="18" ry="24" style="fill:#999"/>
</g>
<g transform="translate(490,868) scale(0.07000)">
<path d="M 90,240 C 110,225 150,215 200,205 L 700,40 C 760,30 900,50 935,80 C 960,110 965,200 965,300 L 955,520 C 950,570 930,600 880,615 L 320,800 C 270,810 150,780 80,750 C 50,735 40,700 40,650 L 50,320 C 55,280 70,255 90,240 Z"/>
<path d="M 290,280 L 880,90 C 920,85 935,100 940,150 L 940,540 C 935,580 910,600 870,610 L 330,790 C 290,800 265,780 260,740 L 255,330 C 255,300 270,285 290,280 Z"/>
<path d="M 80,250 C 150,250 230,265 285,285"/>
<ellipse cx="370" cy="510" rx="88" ry="215"/>
<ellipse cx="525" cy="468" rx="78" ry="212"/>
<ellipse cx="680" cy="420" rx="72" ry="212"/>
<ellipse cx="815" cy="380" rx="68" ry="208"/>
<circle cx="325" cy="355" r="20"/>
<circle cx="345" cy="740" r="20"/>
<circle cx="870" cy="165" r="15"/>
<circle cx="865" cy="555" r="15"/>
</g>
<g transform="translate(618,825) scale(0.07200)">
<path d="M 120,230 C 140,215 170,205 220,195 L 690,45 C 760,40 880,70 910,90 C 935,120 940,200 940,300 L 930,520 C 925,580 905,610 860,625 L 330,790 C 280,800 170,770 90,740 C 60,725 50,690 50,640 L 60,330 C 65,285 90,250 120,230 Z"/>
<path d="M 290,290 L 860,110 C 900,105 915,120 918,160 L 920,540 C 915,580 890,600 850,610 L 320,780 C 285,790 265,770 262,730 L 262,340 C 262,310 272,295 290,290 Z"/>
<path d="M 140,320 L 240,330 L 245,720 L 140,700 Z"/>
<path d="M 130,250 C 180,260 240,275 290,290"/>
<ellipse cx="400" cy="510" rx="100" ry="225"/>
<ellipse cx="565" cy="450" rx="72" ry="210"/>
<ellipse cx="705" cy="400" rx="70" ry="210"/>
<ellipse cx="840" cy="350" rx="65" ry="205"/>
<circle cx="355" cy="335" r="18"/>
<circle cx="345" cy="710" r="18"/>
<circle cx="875" cy="540" r="15"/>
</g>
<g transform="translate(525,910) scale(0.10000)">
<path d="M 60,260 C 60,240 80,230 110,225 L 600,75 C 640,65 680,70 720,80 L 900,125 C 940,140 945,170 930,195 C 920,210 900,220 870,225 L 400,350 C 350,360 300,360 250,350 L 100,310 C 70,300 60,280 60,260 Z"/>
<path d="M 130,265 L 620,120 L 680,110 L 880,160"/>
<path d="M 60,270 C 55,310 70,340 110,355 L 280,405 C 330,415 380,412 420,400 L 880,270 C 930,250 945,220 940,170"/>
<circle cx="650" cy="115" r="15"/>
<path d="M 70,290 C 90,300 110,320 120,340"/>
</g>
<g transform="translate(641.7,872.2) scale(0.10000)">
<path d="M 60,260 C 60,240 80,230 110,225 L 600,75 C 640,65 680,70 720,80 L 900,125 C 940,140 945,170 930,195 C 920,210 900,220 870,225 L 400,350 C 350,360 300,360 250,350 L 100,310 C 70,300 60,280 60,260 Z"/>
<path d="M 130,265 L 620,120 L 680,110 L 880,160"/>
<path d="M 60,270 C 55,310 70,340 110,355 L 280,405 C 330,415 380,412 420,400 L 880,270 C 930,250 945,220 940,170"/>
<circle cx="650" cy="115" r="15"/>
<path d="M 70,290 C 90,300 110,320 120,340"/>
</g>
<g transform="translate(720,500) scale(0.16000)">
<path d="M 330,470 C 330,440 350,425 375,428 C 400,432 410,455 405,480 L 430,500 C 460,480 470,420 480,390 L 540,340 L 530,280 C 535,250 550,240 570,240 L 640,245 C 700,260 735,300 740,340 L 735,430 C 720,470 680,500 640,500 L 430,600 L 350,585 C 335,560 330,520 330,470 Z"/>
<path d="M 375,500 L 400,565 L 640,500"/>
<path d="M 480,390 L 600,400 L 640,400"/>
<path d="M 640,300 L 650,490"/>
<path d="M 540,250 C 570,290 620,310 700,300"/>
<ellipse cx="372" cy="468" rx="12" ry="9"/>
<path d="M 560,240 C 580,270 600,280 630,290"/>
<path d="M 580,370 L 630,385"/>
<ellipse cx="490" cy="668" rx="24" ry="30"/>
<path d="M 508,648 L 568,638 C 575,645 575,655 570,660 L 512,688"/>
<ellipse cx="500" cy="765" rx="30" ry="38"/>
<path d="M 522,742 L 588,728 C 596,735 598,750 592,757 L 528,790"/>
<path d="M 540,745 L 548,780 M 560,740 L 566,775 M 575,735 L 580,770"/>
</g>
<g transform="translate(300,850) scale(0.17999)">
<path d="M 145,260 C 160,220 230,185 320,150 L 380,175 C 400,180 395,200 380,210 L 350,240 C 380,270 420,280 440,270 C 470,250 460,200 480,185 C 500,175 530,195 540,215 L 550,280 L 575,300 C 580,320 560,340 520,350 L 370,390 C 330,380 280,370 230,365 C 180,355 140,330 145,260 Z"/>
<path d="M 150,295 C 200,310 280,300 350,250"/>
<path d="M 350,240 L 360,380"/>
<path d="M 360,300 L 560,290"/>
<path d="M 240,200 L 250,215"/>
<ellipse cx="512" cy="212" rx="12" ry="8"/>
<path d="M 310,155 C 320,175 330,185 345,195"/>
<ellipse cx="655" cy="320" rx="24" ry="30"/>
<path d="M 672,300 L 715,290 C 722,297 722,307 716,312 L 675,340"/>
<ellipse cx="665" cy="395" rx="28" ry="36"/>
<path d="M 686,372 L 742,360 C 750,367 750,382 744,388 L 690,418"/>
</g>
</g>
<path d="M 316,596 L 311,524 L 337.5,400 L 350,346 C 358,318 368,310 385,304 L 423,292.5 C 437,289 443,296 445,310 L 461,435 L 480,535" fill="none" stroke="#8a8a8a" stroke-width="13.1" stroke-linecap="round" stroke-linejoin="round"/><path d="M 316,596 L 311,524 L 337.5,400 L 350,346 C 358,318 368,310 385,304 L 423,292.5 C 437,289 443,296 445,310 L 461,435 L 480,535" fill="none" stroke="#fff" stroke-width="11.1" stroke-linecap="round" stroke-linejoin="round"/>
<path d="M 278,564 C 280.5,568.3 286.8,582.3 293,590 C 299.2,597.7 307.2,603.0 315,610 C 322.8,617.0 335.8,628.3 340,632" fill="none" stroke="#8a8a8a" stroke-width="7.1" stroke-linecap="round" stroke-linejoin="round"/><path d="M 278,564 C 280.5,568.3 286.8,582.3 293,590 C 299.2,597.7 307.2,603.0 315,610 C 322.8,617.0 335.8,628.3 340,632" fill="none" stroke="#fff" stroke-width="5.1" stroke-linecap="round" stroke-linejoin="round"/>
<path d="M 343.6,580 C 345.3,583.3 349.3,593.3 354,600 C 358.7,606.7 364.0,612.5 372,620 C 380.0,627.5 397.0,640.8 402,645" fill="none" stroke="#8a8a8a" stroke-width="7.1" stroke-linecap="round" stroke-linejoin="round"/><path d="M 343.6,580 C 345.3,583.3 349.3,593.3 354,600 C 358.7,606.7 364.0,612.5 372,620 C 380.0,627.5 397.0,640.8 402,645" fill="none" stroke="#fff" stroke-width="5.1" stroke-linecap="round" stroke-linejoin="round"/>
<path d="M 561.4,513.1 C 558.8,515.9 550.8,524.3 546.0,529.6 C 541.2,534.9 536.8,539.9 532.8,545.0 C 528.8,550.1 525.6,554.9 521.8,560.4 C 517.9,565.9 513.2,572.5 509.7,578.0 C 506.2,583.5 503.3,588.6 500.9,593.4 C 498.5,598.2 496.3,604.4 495.4,606.6" fill="none" stroke="#8a8a8a" stroke-width="7.6" stroke-linecap="round" stroke-linejoin="round"/><path d="M 561.4,513.1 C 558.8,515.9 550.8,524.3 546.0,529.6 C 541.2,534.9 536.8,539.9 532.8,545.0 C 528.8,550.1 525.6,554.9 521.8,560.4 C 517.9,565.9 513.2,572.5 509.7,578.0 C 506.2,583.5 503.3,588.6 500.9,593.4 C 498.5,598.2 496.3,604.4 495.4,606.6" fill="none" stroke="#fff" stroke-width="5.6" stroke-linecap="round" stroke-linejoin="round"/>
<path d="M 625.2,526.3 C 623.0,528.7 616.2,536.0 612.0,540.6 C 607.8,545.2 603.9,549.0 599.9,553.8 C 595.9,558.6 591.5,564.1 587.8,569.2 C 584.1,574.3 581.2,579.5 577.9,584.6 C 574.6,589.7 570.9,595.0 568.0,600.0 C 565.1,605.0 561.6,611.9 560.3,614.3" fill="none" stroke="#8a8a8a" stroke-width="7.6" stroke-linecap="round" stroke-linejoin="round"/><path d="M 625.2,526.3 C 623.0,528.7 616.2,536.0 612.0,540.6 C 607.8,545.2 603.9,549.0 599.9,553.8 C 595.9,558.6 591.5,564.1 587.8,569.2 C 584.1,574.3 581.2,579.5 577.9,584.6 C 574.6,589.7 570.9,595.0 568.0,600.0 C 565.1,605.0 561.6,611.9 560.3,614.3" fill="none" stroke="#fff" stroke-width="5.6" stroke-linecap="round" stroke-linejoin="round"/>
<path d="M 680.2,525.2 C 678.0,527.8 671.0,535.8 667.0,540.6 C 663.0,545.4 659.9,549.0 656.0,553.8 C 652.1,558.6 647.6,564.1 643.9,569.2 C 640.2,574.3 637.3,579.7 634.0,584.6 C 630.7,589.5 625.8,596.5 624.1,598.9" fill="none" stroke="#8a8a8a" stroke-width="7.6" stroke-linecap="round" stroke-linejoin="round"/><path d="M 680.2,525.2 C 678.0,527.8 671.0,535.8 667.0,540.6 C 663.0,545.4 659.9,549.0 656.0,553.8 C 652.1,558.6 647.6,564.1 643.9,569.2 C 640.2,574.3 637.3,579.7 634.0,584.6 C 630.7,589.5 625.8,596.5 624.1,598.9" fill="none" stroke="#fff" stroke-width="5.6" stroke-linecap="round" stroke-linejoin="round"/>

<circle cx="185.6" cy="80.6" r="14.5" fill="#000"/><path d="M 183.40,76.30 L 185.30,74.90 L 187.80,74.90 L 187.80,86.20 L 185.30,86.20 L 185.30,77.60 L 183.40,78.60 Z" fill="#fff"/>
<circle cx="272.4" cy="80.6" r="14.5" fill="#000"/><text class="n" transform="translate(272.40,86.10) scale(1.090,1)" font-size="16" stroke="#fff" stroke-width="0.5">2</text>
<circle cx="353" cy="79.4" r="14.5" fill="#000"/><text class="n" transform="translate(353.00,84.90) scale(1.049,1)" font-size="16" stroke="#fff" stroke-width="0.5">3</text>
<circle cx="274.5" cy="313.7" r="14.5" fill="#000"/><text class="n" transform="translate(274.50,319.20) scale(1.030,1)" font-size="16" stroke="#fff" stroke-width="0.5">4</text>
<circle cx="389" cy="273" r="14.5" fill="#000"/><text class="n" transform="translate(389.00,278.50) scale(1.049,1)" font-size="16" stroke="#fff" stroke-width="0.5">5</text>
<circle cx="172.6" cy="388.8" r="14.5" fill="#000"/><text class="n" transform="translate(172.60,394.30) scale(1.103,1)" font-size="16" stroke="#fff" stroke-width="0.5">6</text>
<circle cx="173.3" cy="519.8" r="14.5" fill="#000"/><text class="n" transform="translate(173.30,525.30) scale(1.066,1)" font-size="16" stroke="#fff" stroke-width="0.5">7</text>
<circle cx="374.8" cy="501.8" r="14.5" fill="#000"/><text class="n" transform="translate(374.80,507.30) scale(1.122,1)" font-size="16" stroke="#fff" stroke-width="0.5">8</text>
<circle cx="412" cy="566" r="14.5" fill="#000"/><text class="n" transform="translate(412.00,571.50) scale(1.088,1)" font-size="16" stroke="#fff" stroke-width="0.5">9</text>
<circle cx="546.5" cy="390.8" r="14.5" fill="#000"/><path d="M 538.85,386.50 L 540.75,385.10 L 543.25,385.10 L 543.25,396.40 L 540.75,396.40 L 540.75,387.80 L 538.85,388.80 Z" fill="#fff"/><text class="n" transform="translate(549.55,396.30) scale(1.154,1)" font-size="16" stroke="#fff" stroke-width="0.5">0</text>
<circle cx="753.3" cy="346.3" r="14.5" fill="#000"/><path d="M 748.05,342.00 L 749.95,340.60 L 752.45,340.60 L 752.45,351.90 L 749.95,351.90 L 749.95,343.30 L 748.05,344.30 Z" fill="#fff"/><path d="M 754.15,342.00 L 756.05,340.60 L 758.55,340.60 L 758.55,351.90 L 756.05,351.90 L 756.05,343.30 L 754.15,344.30 Z" fill="#fff"/>
<circle cx="611" cy="58.3" r="14.5" fill="#000"/><path d="M 603.55,54.00 L 605.45,52.60 L 607.95,52.60 L 607.95,63.90 L 605.45,63.90 L 605.45,55.30 L 603.55,56.30 Z" fill="#fff"/><text class="n" transform="translate(614.05,63.80) scale(1.090,1)" font-size="16" stroke="#fff" stroke-width="0.5">2</text>
<circle cx="648" cy="514" r="14.5" fill="#000"/><path d="M 640.55,509.70 L 642.45,508.30 L 644.95,508.30 L 644.95,519.60 L 642.45,519.60 L 642.45,511.00 L 640.55,512.00 Z" fill="#fff"/><text class="n" transform="translate(651.05,519.50) scale(1.090,1)" font-size="16" stroke="#fff" stroke-width="0.5">2</text>
<circle cx="467" cy="802.5" r="14.5" fill="#000"/><path d="M 459.60,798.20 L 461.50,796.80 L 464.00,796.80 L 464.00,808.10 L 461.50,808.10 L 461.50,799.50 L 459.60,800.50 Z" fill="#fff"/><text class="n" transform="translate(470.05,808.00) scale(1.049,1)" font-size="16" stroke="#fff" stroke-width="0.5">3</text>
<circle cx="638" cy="743" r="14.5" fill="#000"/><path d="M 630.30,738.70 L 632.20,737.30 L 634.70,737.30 L 634.70,748.60 L 632.20,748.60 L 632.20,740.00 L 630.30,741.00 Z" fill="#fff"/><text class="n" transform="translate(641.05,748.50) scale(1.030,1)" font-size="16" stroke="#fff" stroke-width="0.5">4</text>
<circle cx="543" cy="852.7" r="14.5" fill="#000"/><path d="M 535.60,848.40 L 537.50,847.00 L 540.00,847.00 L 540.00,858.30 L 537.50,858.30 L 537.50,849.70 L 535.60,850.70 Z" fill="#fff"/><text class="n" transform="translate(546.05,858.20) scale(1.049,1)" font-size="16" stroke="#fff" stroke-width="0.5">5</text>
<circle cx="676" cy="812" r="14.5" fill="#000"/><path d="M 668.50,807.70 L 670.40,806.30 L 672.90,806.30 L 672.90,817.60 L 670.40,817.60 L 670.40,809.00 L 668.50,810.00 Z" fill="#fff"/><text class="n" transform="translate(679.05,817.50) scale(1.103,1)" font-size="16" stroke="#fff" stroke-width="0.5">6</text>
<circle cx="614" cy="954.5" r="14.5" fill="#000"/><path d="M 606.70,950.20 L 608.60,948.80 L 611.10,948.80 L 611.10,960.10 L 608.60,960.10 L 608.60,951.50 L 606.70,952.50 Z" fill="#fff"/><text class="n" transform="translate(617.05,960.00) scale(1.066,1)" font-size="16" stroke="#fff" stroke-width="0.5">7</text>
<circle cx="719" cy="919.6" r="14.5" fill="#000"/><path d="M 711.30,915.30 L 713.20,913.90 L 715.70,913.90 L 715.70,925.20 L 713.20,925.20 L 713.20,916.60 L 711.30,917.60 Z" fill="#fff"/><text class="n" transform="translate(722.05,925.10) scale(1.122,1)" font-size="16" stroke="#fff" stroke-width="0.5">8</text>
<circle cx="827.7" cy="674.2" r="14.5" fill="#000"/><path d="M 820.20,669.90 L 822.10,668.50 L 824.60,668.50 L 824.60,679.80 L 822.10,679.80 L 822.10,671.20 L 820.20,672.20 Z" fill="#fff"/><text class="n" transform="translate(830.75,679.70) scale(1.088,1)" font-size="16" stroke="#fff" stroke-width="0.5">9</text>
<circle cx="791" cy="783" r="14.5" fill="#000"/><text class="n" transform="translate(785.55,788.50) scale(1.090,1)" font-size="16" stroke="#fff" stroke-width="0.5">2</text><text class="n" transform="translate(796.25,788.50) scale(1.154,1)" font-size="16" stroke="#fff" stroke-width="0.5">0</text>
<circle cx="791.8" cy="839" r="14.5" fill="#000"/><text class="n" transform="translate(788.75,844.50) scale(1.090,1)" font-size="16" stroke="#fff" stroke-width="0.5">2</text><path d="M 794.85,834.70 L 796.75,833.30 L 799.25,833.30 L 799.25,844.60 L 796.75,844.60 L 796.75,836.00 L 794.85,837.00 Z" fill="#fff"/>
<circle cx="759" cy="162.5" r="14.5" fill="#000"/><text class="n" transform="translate(753.75,168.00) scale(1.090,1)" font-size="16" stroke="#fff" stroke-width="0.5">2</text><text class="n" transform="translate(764.25,168.00) scale(1.090,1)" font-size="16" stroke="#fff" stroke-width="0.5">2</text>
<circle cx="760.6" cy="259.7" r="14.5" fill="#000"/><text class="n" transform="translate(755.40,265.20) scale(1.090,1)" font-size="16" stroke="#fff" stroke-width="0.5">2</text><text class="n" transform="translate(765.85,265.20) scale(1.049,1)" font-size="16" stroke="#fff" stroke-width="0.5">3</text>
<circle cx="780" cy="537" r="14.5" fill="#b3b3b3"/><path d="M 766.90,532.70 L 768.80,531.30 L 771.30,531.30 L 771.30,542.60 L 768.80,542.60 L 768.80,534.00 L 766.90,535.00 Z" fill="#fff"/><text class="n" transform="translate(777.60,542.50) scale(1.154,1)" font-size="16" stroke="#fff" stroke-width="0.5">0</text><text class="n" transform="translate(788.50,542.50) scale(1.154,1)" font-size="16" stroke="#fff" stroke-width="0.5">0</text>
<circle cx="442.6" cy="885.4" r="14.5" fill="#b3b3b3"/><path d="M 431.90,881.10 L 433.80,879.70 L 436.30,879.70 L 436.30,891.00 L 433.80,891.00 L 433.80,882.40 L 431.90,883.40 Z" fill="#fff"/><text class="n" transform="translate(442.60,890.90) scale(1.154,1)" font-size="16" stroke="#fff" stroke-width="0.5">0</text><path d="M 448.90,881.10 L 450.80,879.70 L 453.30,879.70 L 453.30,891.00 L 450.80,891.00 L 450.80,882.40 L 448.90,883.40 Z" fill="#fff"/>
</svg></body></html>
